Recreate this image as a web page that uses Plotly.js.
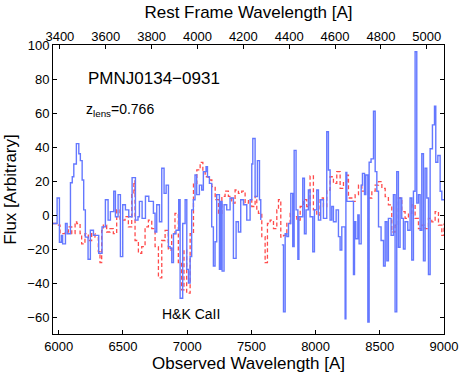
<!DOCTYPE html>
<html>
<head>
<meta charset="utf-8">
<script src="https://cdn.plot.ly/plotly-3.0.1.min.js"></script>
<style>
  html, body { margin: 0; padding: 0; background: #fff; }
  #plot { width: 463px; height: 373px; }
</style>
</head>
<body>
<div id="plot"></div>
<script>
// Observed spectrum (blue, stepped); null marks the masked telluric band
const OBS_WAVE = [5955, 5987, 6005, 6020, 6030, 6052, 6065, 6091, 6105, 6117, 6137, 6156, 6168, 6182, 6194,
  6207, 6228, 6246, 6270, 6311, 6337, 6363, 6384, 6402, 6428, 6441, 6462, 6480, 6498, 6519, 6545, 6571,
  6597, 6617, 6628, 6649, 6675, 6701, 6737, 6750, 6763, 6784, 6802, 6820, 6836, 6854, 6867, 6880, 6893,
  6913, 6934, 6945, 6965, 6984, 6997, 7010, 7023, 7035, 7048, 7061, 7074, 7095, 7113, 7126, 7147, 7158,
  7173, 7191, 7204, 7217, 7230, 7251, 7261, 7272, 7287, 7308, 7334, 7360, 7381, 7399, 7417, 7438, 7464,
  7490, 7503, 7511, 7529, 7547, 7563, 7573, 7589, 7737, 7750, 7763, 7776, 7789, 7807, 7822, 7833, 7848,
  7862, 7870, 7900, 7913, 7926, 7944, 7957, 7978, 7991, 8009, 8022, 8040, 8061, 8087, 8100, 8113, 8126,
  8139, 8160, 8178, 8191, 8204, 8230, 8236, 8243, 8295, 8303, 8313, 8329, 8339, 8355, 8365, 8381, 8391,
  8407, 8417, 8432, 8451, 8464, 8477, 8490, 8510, 8529, 8542, 8555, 8567, 8588, 8606, 8619, 8632, 8645,
  8658, 8671, 8684, 8697, 8718, 8736, 8749, 8762, 8775, 8788, 8801, 8814, 8827, 8840, 8853, 8866, 8879,
  8892, 8910, 8926, 8936, 8952, 8970, 8983, 9000];
const OBS_FLUX = [-5, 10, -16, -12, -17, -5, -11, 19, 22.5, 30, 42, 36, 32, 20.6, 3,
  -13, -26, -9, -12, -22.5, -7, 9, -3, 2, 14, -1, 12, -24.5, 6, 3, -1, 22,
  -3, -1, 8, -2, 11, 8, 1, -10, 6, -4, 27.5, 12.7, 17.6, -18.6, -19.6, -28, -11,
  -9, 9, -49, -5, 9, -32, -40, -24.5, 3, 9, 23.5, 12, 17.6, 14.7, 25.5, 28.4, 22.5,
  18.6, -7, -30, -15.7, 12, -32, 8, -33, 6, 3, 10, -25.5, -4, -10, 9, 6, -3,
  9, 30, 45, 10.8, 32, 9, -3, null, -17.6, -57, -11, -12.7, -5, 12.7, -18.6, 38, 3,
  -26, -1, 21.6, -11, 3, 14.7, -1, -21.6, 3, 14.7, -3, 9, -2, 49, 26.5, -3, 5,
  -4, 3, -12.7, -20.6, -7, -61, 25, 8, -35, -4, -14, 0, -17, 17.6, 24.5, 12, 23.5,
  -63, 31, 33, 61, 25.5, 14, -7, -15, -30, -4, -27, -2, -12, 12, -57, 25.5, -19,
  10, -2, -20, -4, -9, 10, -26.5, 14, 96, 7, 12, -9, 36, -27, 27.5, 10, -35,
  39, 53, 64, 31, 35, 14, 9, 9];

// Template spectrum (red, dashed)
const TPL_WAVE = [5955, 5984, 6010, 6049, 6075, 6101, 6127, 6140, 6166, 6178, 6204, 6230, 6256, 6282, 6308,
  6321, 6334, 6347, 6373, 6399, 6425, 6451, 6477, 6516, 6542, 6568, 6585, 6594, 6620, 6646, 6672, 6698,
  6724, 6750, 6776, 6802, 6828, 6853, 6879, 6905, 6931, 6957, 6975, 6996, 7023, 7049, 7075, 7101, 7122,
  7140, 7166, 7192, 7218, 7244, 7270, 7295, 7321, 7347, 7373, 7399, 7425, 7451, 7477, 7503, 7529, 7542,
  7555, 7581, 7607, 7625, 7646, 7672, 7698, 7711, 7729, 7750, 7776, 7802, 7828, 7854, 7880, 7906, 7931,
  7957, 7983, 8009, 8035, 8061, 8087, 8113, 8139, 8165, 8191, 8217, 8243, 8256, 8282, 8308, 8334, 8360,
  8386, 8412, 8438, 8464, 8490, 8516, 8542, 8567, 8593, 8619, 8645, 8671, 8697, 8723, 8749, 8775, 8801,
  8827, 8853, 8879, 8905, 8931, 8957, 8983, 9000];
const TPL_FLUX = [-5, -6, -11, -10, -7, -11, -4, -5, -11, -17, -11, -15, -11, -13, -21.5,
  -28, -9, -6, -10, -8, -11, 3, -3, -1, -7, 13, 20, -15, -22.5, -18.6, -7, -3,
  -8, -18.6, -37, -15, -9, -20.6, -11, 1, -28, -44, -20.6, -46, -11, 18.6, 26.5, 31, 25.5,
  22.5, 20.6, 16.7, 9, 1, 11, 14, 11, 7, 14.7, 12.7, 14, 7, 9, 5, 11, 3,
  1, -12.7, -28, -5, -3, -8, 3, 9, -13, -12, -5, 1, -1, -3, 5, 9, 5,
  23, 3, 0, 10, 5, 14.7, 22.5, 18.6, 25.5, 15.7, 19.6, 23.5, 10, 8, 12, 17.6, 14,
  14, 10, 14, 17.6, 19.6, 15.7, 10.8, 6, -10, -6, 10, 2, -2, 1, 6, -2, -8,
  -6, -8, -2, -4, 2, -6, -12, -5];

const REST_TICKS = [3400, 3600, 3800, 4000, 4200, 4400, 4600, 4800, 5000];
const OBS_TICKS = [6000, 6500, 7000, 7500, 8000, 8500, 9000];
const Y_TICKS = [-60, -40, -20, 0, 20, 40, 60, 80, 100];

const FONT = 'Liberation Sans, Arial, Helvetica, sans-serif';

const traces = [
  {
    x: TPL_WAVE, y: TPL_FLUX, type: 'scatter', mode: 'lines',
    line: {color: 'rgb(255,75,75)', width: 1.3, dash: '4px,2.5px', shape: 'hv'},
    hoverinfo: 'skip', connectgaps: false
  },
  {
    x: OBS_WAVE, y: OBS_FLUX, type: 'scatter', mode: 'lines',
    line: {color: 'rgb(100,120,255)', width: 1.4, shape: 'hv'},
    hoverinfo: 'skip', connectgaps: false
  },
  // empty trace so the rest-frame axis is laid out
  {x: [REST_TICKS[0]], y: [null], xaxis: 'x2', yaxis: 'y', type: 'scatter',
   mode: 'lines', hoverinfo: 'skip', showlegend: false}
];

const layout = {
  width: 463,
  height: 373,
  margin: {l: 52.5, r: 19, t: 45, b: 39, pad: 0},
  paper_bgcolor: '#fff',
  plot_bgcolor: '#fff',
  showlegend: false,
  font: {family: FONT, size: 13, color: '#000'},
  xaxis: {
    range: [5955, 9000],
    tickvals: OBS_TICKS,
    ticks: 'inside', ticklen: 4, tickcolor: '#000',
    showline: true, linecolor: '#000', linewidth: 1, mirror: true,
    showgrid: false, zeroline: false,
    tickfont: {family: FONT, size: 13},
    title: {text: 'Observed Wavelength [A]', font: {family: FONT, size: 17}, standoff: 4}
  },
  xaxis2: {
    overlaying: 'x', side: 'top', anchor: 'y',
    range: [3370, 5075],
    tickvals: REST_TICKS,
    ticks: 'inside', ticklen: 4, tickcolor: '#000',
    showline: false, showgrid: false, zeroline: false,
    tickfont: {family: FONT, size: 13},
    title: {text: 'Rest Frame Wavelength [A]', font: {family: FONT, size: 17}, standoff: 6}
  },
  yaxis: {
    range: [-70, 100],
    tickvals: Y_TICKS,
    ticks: 'inside', ticklen: 4, tickcolor: '#000',
    showline: true, linecolor: '#000', linewidth: 1, mirror: 'ticks',
    showgrid: false, zeroline: false,
    tickfont: {family: FONT, size: 13},
    title: {text: 'Flux [Arbitrary]', font: {family: FONT, size: 17}, standoff: 6}
  },
  annotations: [
    {x: 6215, y: 80.5, xref: 'x', yref: 'y', xanchor: 'left', yanchor: 'middle',
     text: 'PMNJ0134\u22120931', showarrow: false, font: {family: FONT, size: 17}},
    {x: 6200, y: 62, xref: 'x', yref: 'y', xanchor: 'left', yanchor: 'middle',
     text: 'z<sub>lens</sub>=0.766', showarrow: false, font: {family: FONT, size: 14}},
    {x: 7030, y: -58, xref: 'x', yref: 'y', xanchor: 'center', yanchor: 'middle',
     text: 'H&amp;K CaII', showarrow: false, font: {family: FONT, size: 14}}
  ]
};

Plotly.newPlot('plot', traces, layout, {staticPlot: true, displayModeBar: false});
</script>
</body>
</html>
